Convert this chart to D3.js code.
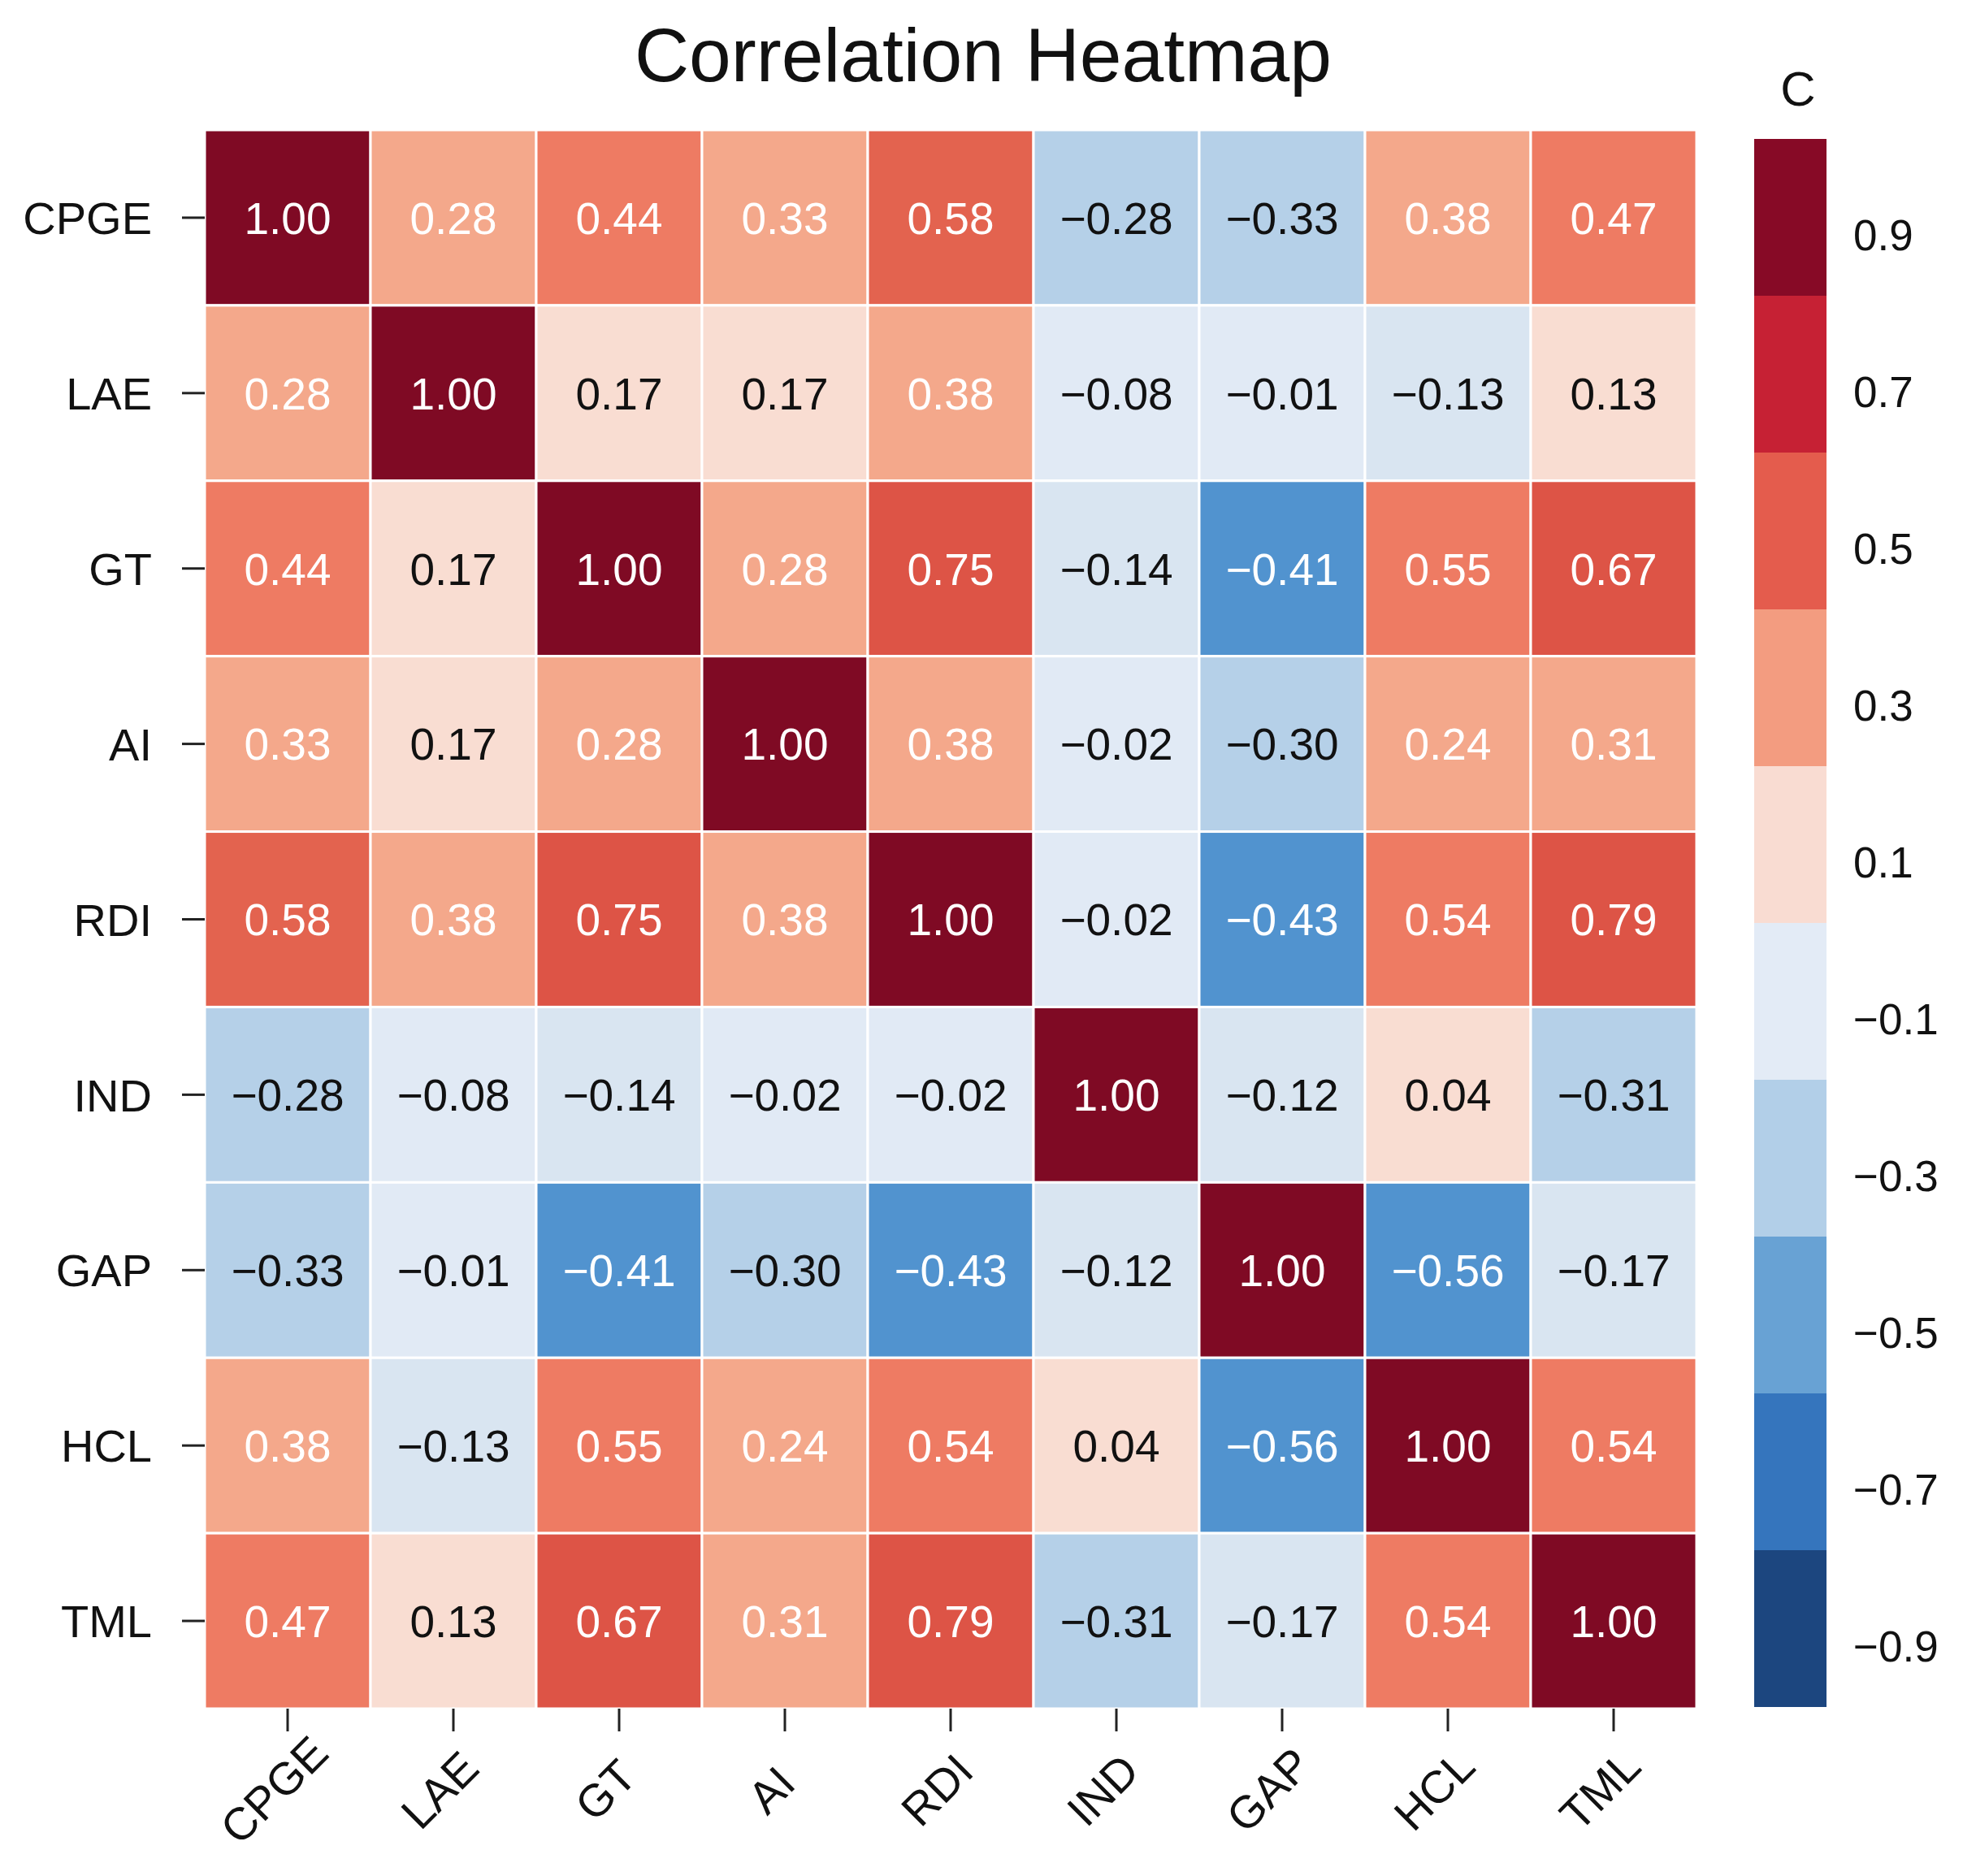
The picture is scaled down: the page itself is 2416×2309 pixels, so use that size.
<!DOCTYPE html>
<html>
<head>
<meta charset="utf-8">
<script src="https://cdn.jsdelivr.net/npm/d3@7"></script>
<style>
  body { margin: 0; background: #fff; }
  text { font-family: "Liberation Sans", Arial, sans-serif; }
</style>
</head>
<body>
<svg id="chart" width="2416" height="2309"></svg>
<script>
let labels = ["CPGE", "LAE", "GT", "AI", "RDI", "IND", "GAP", "HCL", "TML"];

let rowCPGE = [1.00, 0.28, 0.44, 0.33, 0.58, -0.28, -0.33, 0.38, 0.47];
let rowLAE  = [0.28, 1.00, 0.17, 0.17, 0.38, -0.08, -0.01, -0.13, 0.13];
let rowGT   = [0.44, 0.17, 1.00, 0.28, 0.75, -0.14, -0.41, 0.55, 0.67];
let rowAI   = [0.33, 0.17, 0.28, 1.00, 0.38, -0.02, -0.30, 0.24, 0.31];
let rowRDI  = [0.58, 0.38, 0.75, 0.38, 1.00, -0.02, -0.43, 0.54, 0.79];
let rowIND  = [-0.28, -0.08, -0.14, -0.02, -0.02, 1.00, -0.12, 0.04, -0.31];
let rowGAP  = [-0.33, -0.01, -0.41, -0.30, -0.43, -0.12, 1.00, -0.56, -0.17];
let rowHCL  = [0.38, -0.13, 0.55, 0.24, 0.54, 0.04, -0.56, 1.00, 0.54];
let rowTML  = [0.47, 0.13, 0.67, 0.31, 0.79, -0.31, -0.17, 0.54, 1.00];

let matrix = [rowCPGE, rowLAE, rowGT, rowAI, rowRDI, rowIND, rowGAP, rowHCL, rowTML];

let colorbarTicks = [0.9, 0.7, 0.5, 0.3, 0.1, -0.1, -0.3, -0.5, -0.7, -0.9];
let colorbarBins = [-1.0, -0.8, -0.6, -0.4, -0.2, 0.0, 0.2, 0.4, 0.6, 0.8];
let colorbarColors = ["#1c467f", "#3575bd", "#68a2d4", "#b2cfe8", "#e3ebf6",
                      "#f9dcd2", "#f39c80", "#e45c4d", "#c62134", "#870a26"];

let cellThresholds = [-0.4, -0.2, -0.1, 0, 0.2, 0.4, 0.57, 0.6, 0.8];
let cellColors = ["#5193cf", "#b5d0e8", "#d9e5f1", "#e1eaf5", "#f9ddd2",
                  "#f4a88b", "#ee7b63", "#e3634f", "#dd5446", "#7f0a24"];

let svg = d3.select("#chart");
let fontSize = 55;

let x = d3.scaleBand().domain(labels).range([252, 2088]);
let y = d3.scaleBand().domain(labels).range([160, 2103]);

let fill = d3.scaleThreshold().domain(cellThresholds).range(cellColors);
let textColor = d3.scaleThreshold().domain([-0.4, 0.2]).range(["#fff", "#111", "#fff"]);
let fmt = d3.format(".2f");

let cells = [];
matrix.forEach(function (row, i) {
  row.forEach(function (v, j) {
    cells.push({row: labels[i], col: labels[j], value: v});
  });
});

let grid = svg.append("g");

grid.selectAll("rect")
  .data(cells)
  .enter().append("rect")
  .attr("x", d => x(d.col))
  .attr("y", d => y(d.row))
  .attr("width", x.bandwidth())
  .attr("height", y.bandwidth())
  .attr("fill", d => fill(d.value))
  .attr("stroke", "#fff")
  .attr("stroke-width", 3);

grid.selectAll("text")
  .data(cells)
  .enter().append("text")
  .attr("x", d => x(d.col) + x.bandwidth() / 2)
  .attr("y", d => y(d.row) + y.bandwidth() / 2)
  .attr("dy", "0.36em")
  .attr("text-anchor", "middle")
  .attr("font-size", fontSize)
  .attr("fill", d => textColor(d.value))
  .text(d => fmt(d.value));

// row labels
let yAxis = svg.append("g")
  .attr("transform", "translate(252,0)")
  .call(d3.axisLeft(y).tickSize(28).tickPadding(37));
yAxis.select(".domain").remove();
yAxis.selectAll(".tick line").attr("stroke", "#222").attr("stroke-width", 3);
yAxis.selectAll(".tick text")
  .attr("font-size", 56)
  .attr("font-family", "'Liberation Sans', Arial, sans-serif")
  .attr("fill", "#111")
  .attr("dy", "0.36em");

// column labels, rotated
let xAxis = svg.append("g")
  .attr("transform", "translate(0,2103)")
  .call(d3.axisBottom(x).tickSize(28).tickFormat(""));
xAxis.select(".domain").remove();
xAxis.selectAll(".tick line").attr("stroke", "#222").attr("stroke-width", 3);

svg.append("g")
  .selectAll("text")
  .data(labels)
  .enter().append("text")
  .attr("transform", d => "translate(" + (x(d) + x.bandwidth() / 2 - 3) + ",2217)rotate(-45)")
  .attr("text-anchor", "middle")
  .attr("font-size", 56)
  .attr("fill", "#111")
  .text(d => d);

// title
svg.append("text")
  .attr("x", 1210)
  .attr("y", 100)
  .attr("text-anchor", "middle")
  .attr("font-size", 93)
  .attr("fill", "#111")
  .text("Correlation Heatmap");

// colorbar
let c = d3.scaleLinear().domain([-1, 1]).range([2101, 171]);
let bar = svg.append("g");

bar.selectAll("rect")
  .data(colorbarBins)
  .enter().append("rect")
  .attr("x", 2159)
  .attr("y", d => c(d + 0.2))
  .attr("width", 89)
  .attr("height", d => c(d) - c(d + 0.2))
  .attr("fill", (d, i) => colorbarColors[i]);

bar.selectAll("text.tick-label")
  .data(colorbarTicks)
  .enter().append("text")
  .classed("tick-label", true)
  .attr("x", 2281)
  .attr("y", d => c(d) + 40)
  .attr("font-size", 53)
  .attr("fill", "#111")
  .text(d => d3.format(".1f")(d));

bar.append("text")
  .attr("x", 2213)
  .attr("y", 130)
  .attr("text-anchor", "middle")
  .attr("font-size", 60)
  .attr("fill", "#111")
  .text("C");
</script>
</body>
</html>
